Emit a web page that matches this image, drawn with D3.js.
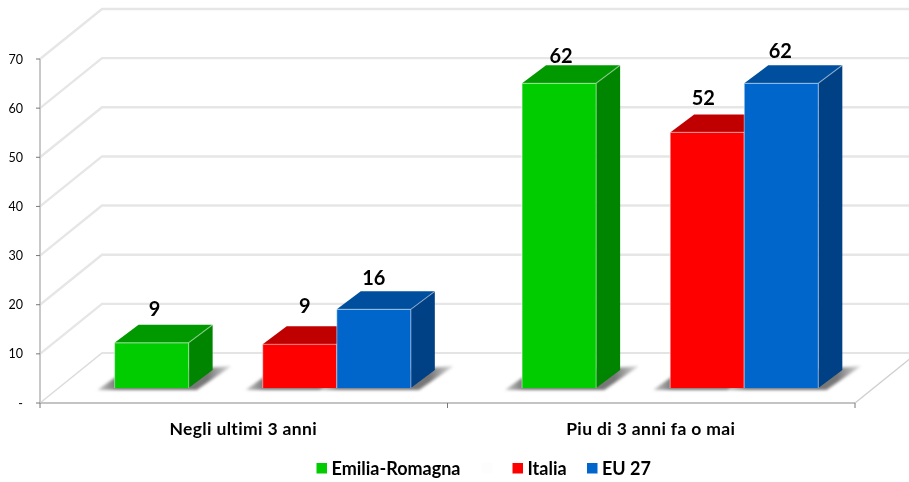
<!DOCTYPE html>
<html><head><meta charset="utf-8">
<script src="https://cdn.jsdelivr.net/npm/d3@7/dist/d3.min.js"></script>
<style>html,body{margin:0;padding:0;background:#fff}svg{display:block}text{font-family:Lato,"Open Sans",sans-serif;fill:#000}</style>
</head><body><svg id="c" width="909" height="482"></svg>
<script>
const categories = ["Negli ultimi 3 anni", "Piu di 3 anni fa o mai"];
const seriesNames = ["Emilia-Romagna", " ", "Italia", "EU 27"];
const seriesColors = ["#00cc00", "#fdfdfd", "#ff0000", "#0066cc"];
const topColors = ["#009900", null, "#c00000", "#004f9f"];
const sideColors = ["#008500", null, "#a00000", "#003f84"];
const emiliaValues = [9.2, 62];
const blankValues = [null, null];
const italiaValues = [8.9, 52];
const euValues = [16, 62];
const seriesValues = [emiliaValues, blankValues, italiaValues, euValues];
const yTicks = [0, 10, 20, 30, 40, 50, 60, 70];
const yTickLabels = ["-", "10", "20", "30", "40", "50", "60", "70"];
const labelShiftX = [[3, 2], null, [5, -4], [0, -1]];
const labelShiftY = [[-27, -20], null, [-31, -27], [-24, -25]];

const svg = d3.select("#c");
const plot = {l: 40, r: 855, t: 59, b: 403};
const wall = {dx: 62, dy: -50};
const floorInset = -15;
const barDepth = {dx: 24, dy: -18};

const defs = svg.append("defs");
defs.append("filter").attr("id", "soft").append("feGaussianBlur").attr("stdDeviation", 0.45);
defs.append("filter").attr("id", "sh").attr("x", "-30%").attr("width", "160%").attr("y", "-30%").attr("height", "160%")
  .append("feGaussianBlur").attr("stdDeviation", 1.8);
const grad = defs.append("linearGradient").attr("id", "shGrad").attr("x1", 0).attr("x2", 1).attr("y1", 0).attr("y2", 0);
grad.append("stop").attr("offset", "0%").attr("stop-color", "#c8c8c8");
grad.append("stop").attr("offset", "14%").attr("stop-color", "#777");
grad.append("stop").attr("offset", "82%").attr("stop-color", "#777");
grad.append("stop").attr("offset", "100%").attr("stop-color", "#e2e2e2");

const y = d3.scaleLinear().domain([0, 70]).range([plot.b, plot.t]);
const x0 = d3.scaleBand().domain(categories).range([plot.l, plot.r]);
const x1 = d3.scaleBand().domain(seriesNames).range([x0.bandwidth() * 0.183, x0.bandwidth() * 0.91]);
const h = v => y(0) - y(v);
const line = d3.line();

const root = svg.append("g").attr("filter", "url(#soft)");

const grid = root.append("g").attr("fill", "none");
yTicks.forEach(t => {
  grid.append("path").attr("d", line([
    [plot.l, y(t)], [plot.l + wall.dx, y(t) + wall.dy],
    [909, y(t) + wall.dy]
  ])).attr("stroke-width", t === 0 ? 1.6 : 2.4).attr("stroke", t === 0 ? "#dcdcdc" : "#e6e6e6");
});
root.append("path").attr("fill", "none").attr("stroke", "#d0d0d0").attr("stroke-width", 1.5)
  .attr("d", line([[plot.r, y(0)], [plot.r + wall.dx, y(0) + wall.dy]]));

root.append("line").attr("x1", plot.l).attr("x2", plot.l).attr("y1", y(0)).attr("y2", y(70))
  .attr("stroke", "#c8c8c8").attr("stroke-width", 2);
root.append("line").attr("x1", plot.l).attr("x2", plot.r).attr("y1", y(0)).attr("y2", y(0))
  .attr("stroke", "#c4c4c4").attr("stroke-width", 2);
yTicks.forEach((t, i) => {
  root.append("line").attr("x1", plot.l - 4).attr("x2", plot.l).attr("y1", y(t)).attr("y2", y(t)).attr("stroke", "#777").attr("stroke-width", 1);
  root.append("text").attr("x", 23).attr("y", y(t) + 4.5).attr("text-anchor", "end").attr("font-size", 12.5).text(yTickLabels[i]);
});
[plot.l, x0(categories[1]), plot.r].forEach(px => {
  root.append("line").attr("x1", px).attr("x2", px).attr("y1", y(0)).attr("y2", y(0) + 5).attr("stroke", "#777").attr("stroke-width", 1);
});
categories.forEach(c => {
  root.append("text").attr("x", x0(c) + x0.bandwidth() / 2 - 0.5).attr("y", 435).attr("text-anchor", "middle")
    .attr("font-size", 17.5).attr("font-weight", 700).attr("letter-spacing", 0.35).text(c);
});

const items = [];
categories.forEach((c, ci) => seriesNames.forEach((s, si) => {
  const v = seriesValues[si][ci];
  if (v != null) items.push({c, ci, s, si, v, x: x0(c) + x1(s), w: x1.bandwidth()});
}));
const base = y(0) + floorInset;

const shadow = root.append("g").attr("filter", "url(#sh)");
items.forEach(d => {
  shadow.append("path").attr("fill", "url(#shGrad)").attr("d", line([
    [d.x - 17, base + 2], [d.x + 4, base - 13],
    [d.x + d.w + barDepth.dx + 19, base + barDepth.dy - 4],
    [d.x + d.w + 8, base + 2]
  ]) + "Z");
});

items.forEach(d => {
  const g = root.append("g");
  const L = d.x, R = L + d.w, T = base - h(d.v), B = base;
  const {dx, dy} = barDepth;
  g.append("path").attr("fill", topColors[d.si]).attr("d", line([[L, T], [L + dx, T + dy], [R + dx, T + dy], [R, T]]) + "Z");
  g.append("path").attr("fill", sideColors[d.si]).attr("d", line([[R, T], [R + dx, T + dy], [R + dx, B + dy], [R, B]]) + "Z");
  g.append("rect").attr("x", L).attr("y", T).attr("width", d.w).attr("height", B - T).attr("fill", seriesColors[d.si]);
  g.append("path").attr("fill", "none").attr("stroke", "#ffffff").attr("stroke-opacity", 0.4).attr("stroke-width", 1.2)
    .attr("d", line([[L, B], [L, T], [R, T], [R, B]]) + "M" + R + "," + T + "L" + (R + dx) + "," + (T + dy));
});

items.forEach(d => {
  root.append("text").attr("x", d.x + d.w / 2 + labelShiftX[d.si][d.ci])
    .attr("y", base - h(d.v) + labelShiftY[d.si][d.ci])
    .attr("text-anchor", "middle").attr("font-size", 20).attr("font-weight", 700)
    .text(d3.format(".0f")(d.v));
});

const legendX = [316.5, 482, 512.5, 587];
seriesNames.forEach((s, i) => {
  root.append("rect").attr("x", legendX[i]).attr("y", 463).attr("width", 10.5).attr("height", 10.5).attr("fill", seriesColors[i]);
  root.append("text").attr("x", legendX[i] + 15).attr("y", 475).attr("font-size", 18).attr("font-weight", 700).text(s);
});
</script></body></html>
